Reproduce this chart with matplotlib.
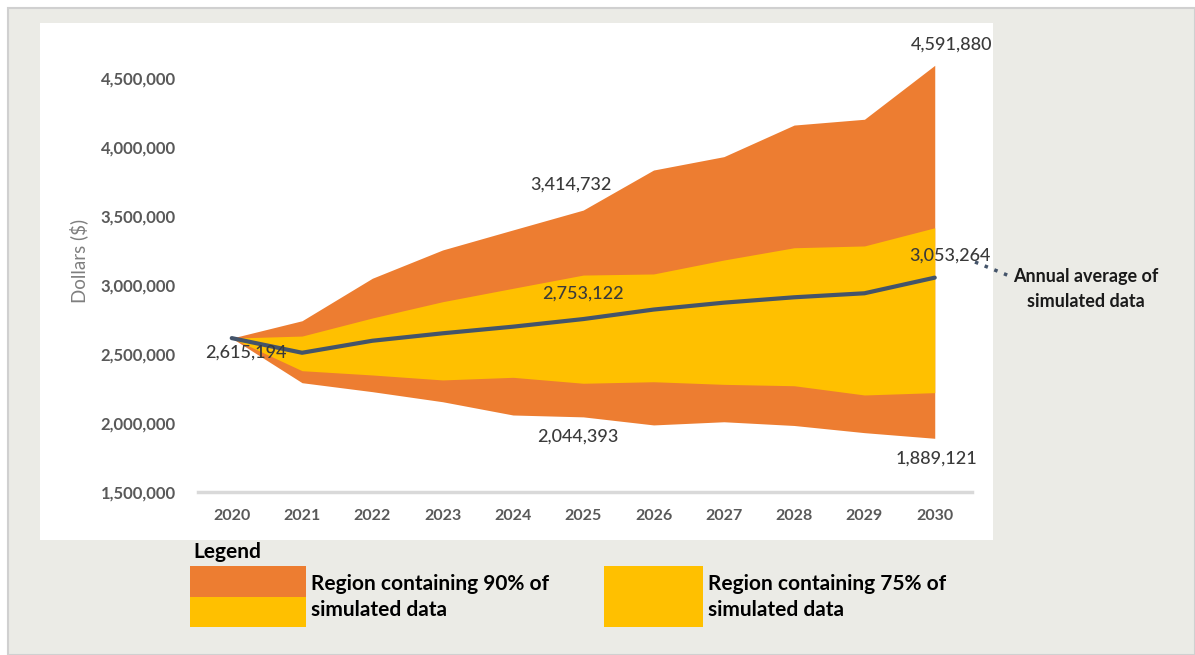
import matplotlib
matplotlib.use('Agg')
import matplotlib.pyplot as plt
from matplotlib.patches import Rectangle
from matplotlib.lines import Line2D

plt.rcParams['font.family'] = ['Lato', 'DejaVu Sans']

# data
years = [2020, 2021, 2022, 2023, 2024, 2025, 2026, 2027, 2028, 2029, 2030]
upper90 = [2615194, 2741000, 3049000, 3254000, 3399000, 3543000, 3833000, 3930000, 4159000, 4201000, 4591880]
upper75 = [2615194, 2630000, 2761000, 2879000, 2976000, 3072000, 3080000, 3181000, 3270000, 3283000, 3414732]
average = [2615194, 2509000, 2596000, 2650000, 2698000, 2753122, 2822000, 2872000, 2911000, 2940000, 3053264]
lower75 = [2615194, 2379000, 2348000, 2312000, 2331000, 2288000, 2299000, 2280000, 2270000, 2203000, 2220000]
lower90 = [2615194, 2292000, 2227000, 2154000, 2058000, 2044393, 1986000, 2009000, 1982000, 1930000, 1889121]
yticks = [1500000, 2000000, 2500000, 3000000, 3500000, 4000000, 4500000]

# labelled points: (x, y, text)
labels = [
    (2020.2, 2507000, '2,615,194'),
    (2024.82, 3725000, '3,414,732'),
    (2024.99, 2935000, '2,753,122'),
    (2024.92, 1899000, '2,044,393'),
    (2030.24, 4739000, '4,591,880'),
    (2030.21, 3210000, '3,053,264'),
    (2030.03, 1739000, '1,889,121'),
]

ORANGE = '#ED7D31'
YELLOW = '#FFC000'
LINE = '#44546A'
W, H = 1195, 655


def fx(px):
    return px / W


def fy(py):
    return 1 - py / H


fig = plt.figure(figsize=(W / 100, H / 100), dpi=100)
fig.patch.set_facecolor('white')
# gray frame and white chart panel (behind the axes)
fig.add_artist(Rectangle((fx(8), fy(655)), fx(1195) - fx(8), fy(8) - fy(655),
                         facecolor='#EBEBE6', edgecolor='#D0D0D0', lw=1.5, zorder=-2))
fig.add_artist(Rectangle((fx(40), fy(540)), fx(993) - fx(40), fy(23) - fy(540),
                         facecolor='white', edgecolor='none', zorder=-1))

ax = fig.add_axes([fx(198), fy(492), fx(972) - fx(198), fy(29.7) - fy(492)])
ax.set_facecolor('none')

ax.fill_between(years, lower90, upper90, color=ORANGE, lw=0)
ax.fill_between(years, lower75, upper75, color=YELLOW, lw=0)
ax.plot(years, average, color=LINE, lw=3, solid_capstyle='round')

for x, y, t in labels:
    ax.text(x, y, t, ha='center', va='center', fontsize=13, color='#3A3A3A',
            fontweight='medium')

ax.set_xlim(2019.52, 2030.53)
ax.set_ylim(1500000, 4850000)
ax.set_xticks(years)
ax.set_xticklabels([str(y) for y in years], fontsize=11.5, color='#595959', fontweight='bold')
ax.set_yticks(yticks)
ax.set_yticklabels(['{:,}'.format(v) for v in yticks], fontsize=12, color='#595959', fontweight='bold')
ax.tick_params(axis='both', length=0)
ax.tick_params(axis='y', pad=16)
ax.tick_params(axis='x', pad=12)
for s in ['top', 'right', 'left']:
    ax.spines[s].set_visible(False)
ax.spines['bottom'].set_color('#D9D9D9')
ax.spines['bottom'].set_linewidth(2.5)
ax.set_ylabel('Dollars ($)', fontsize=13.5, color='#7F7F7F', labelpad=9)

# callout for the average line
fig.add_artist(Line2D([fx(975), fx(1012)], [fy(262), fy(277)], color=LINE,
                      linestyle=(0, (1, 2)), lw=2.5))
fig.text(fx(1086), fy(289), 'Annual average of\nsimulated data', ha='center', va='center',
         fontsize=13, fontweight='bold', color='#1A1A1A', linespacing=1.6)

# legend
fig.text(fx(193), fy(552), 'Legend', ha='left', va='center', fontsize=15,
         fontweight='bold', color='black')
fig.add_artist(Rectangle((fx(190), fy(597)), fx(306) - fx(190), fy(566) - fy(597),
                         facecolor=ORANGE, edgecolor='none'))
fig.add_artist(Rectangle((fx(190), fy(627)), fx(306) - fx(190), fy(597) - fy(627),
                         facecolor=YELLOW, edgecolor='none'))
fig.add_artist(Rectangle((fx(604), fy(627)), fx(703) - fx(604), fy(566) - fy(627),
                         facecolor=YELLOW, edgecolor='none'))
fig.text(fx(311), fy(597), 'Region containing 90% of\nsimulated data', ha='left', va='center',
         fontsize=15, fontweight='bold', color='black', linespacing=1.4)
fig.text(fx(708), fy(597), 'Region containing 75% of\nsimulated data', ha='left', va='center',
         fontsize=15, fontweight='bold', color='black', linespacing=1.4)

fig.savefig('out.png', dpi=100)
